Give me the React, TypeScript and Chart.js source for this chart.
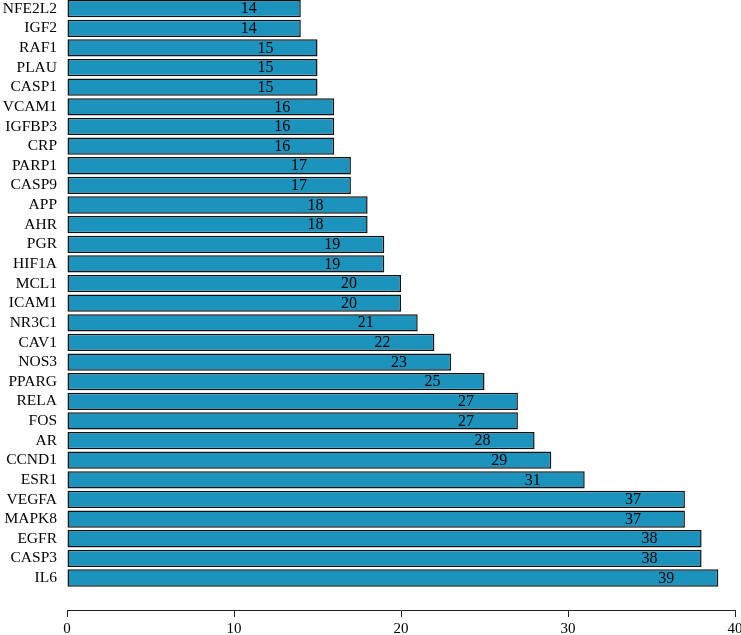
import React, { useEffect, useRef } from "react";
import { Chart, registerables } from "chart.js";

Chart.register(...registerables);

const genes = [
  "NFE2L2", "IGF2", "RAF1", "PLAU", "CASP1", "VCAM1", "IGFBP3", "CRP", "PARP1", "CASP9",
  "APP", "AHR", "PGR", "HIF1A", "MCL1", "ICAM1", "NR3C1", "CAV1", "NOS3", "PPARG",
  "RELA", "FOS", "AR", "CCND1", "ESR1", "VEGFA", "MAPK8", "EGFR", "CASP3", "IL6",
];
const counts = [
  14, 14, 15, 15, 15, 16, 16, 16, 17, 17,
  18, 18, 19, 19, 20, 20, 21, 22, 23, 25,
  27, 27, 28, 29, 31, 37, 37, 38, 38, 39,
];
const xTicks = [0, 10, 20, 30, 40];

const SERIF = "'Liberation Serif', 'Times New Roman', serif";

const valueLabels = {
  id: "valueLabels",
  afterDatasetsDraw(chart: any) {
    const ctx = chart.ctx;
    const meta = chart.getDatasetMeta(0);
    ctx.save();
    ctx.fillStyle = "#000";
    ctx.font = `16px ${SERIF}`;
    ctx.textAlign = "center";
    ctx.textBaseline = "middle";
    meta.data.forEach((bar: any, i: number) => {
      ctx.fillText(String(counts[i]), bar.x - 52, bar.y + 0.5);
    });
    ctx.restore();
  },
};

export default function App() {
  const ref = useRef<HTMLCanvasElement | null>(null);
  useEffect(() => {
    if (!ref.current) return;
    const chart = new Chart(ref.current, {
      type: "bar",
      data: {
        datasets: [
          {
            data: counts.map((v, i) => ({ x: v, y: i })),
            backgroundColor: "#1b93bd",
            borderColor: "#111",
            borderWidth: 1.5,
            borderSkipped: false,
            barPercentage: 0.88,
            categoryPercentage: 1,
          },
        ],
      },
      options: {
        indexAxis: "y",
        animation: false,
        responsive: true,
        maintainAspectRatio: false,
        layout: { padding: { top: 0, right: 6, bottom: 0, left: 0 } },
        plugins: { legend: { display: false }, tooltip: { enabled: false } },
        scales: {
          y: {
            type: "linear",
            reverse: true,
            offset: false,
            min: -0.443,
            max: 30.63,
            afterBuildTicks: (scale: any) => {
              scale.ticks = genes.map((_, i) => ({ value: i }));
            },
            afterFit: (scale: any) => {
              scale.width = 67;
              scale.paddingTop = 0;
              scale.paddingBottom = 0;
            },
            grid: { display: false, drawTicks: false },
            border: { display: false },
            ticks: {
              autoSkip: false,
              padding: 10,
              color: "#000",
              font: { family: SERIF, size: 15.5 },
              callback: (v: any) => genes[v as number] ?? "",
            },
          },
          x: {
            type: "linear",
            min: 0,
            max: 40,
            offset: false,
            afterBuildTicks: (scale: any) => {
              scale.ticks = xTicks.map((v) => ({ value: v }));
            },
            afterFit: (scale: any) => {
              scale.height = 25;
              scale.paddingLeft = 0;
              scale.paddingRight = 0;
            },
            grid: {
              drawOnChartArea: false,
              drawTicks: true,
              tickLength: 7,
              color: "#222",
              lineWidth: 1,
            },
            border: { display: true, color: "#222", width: 1 },
            ticks: {
              padding: 3,
              color: "#000",
              maxRotation: 0,
              font: { family: SERIF, size: 15 },
            },
          },
        },
      },
      plugins: [valueLabels],
    });
    return () => chart.destroy();
  }, []);
  return (
    <div style={{ position: "fixed", left: 0, top: 0, width: 741, height: 635, background: "#fff" }}>
      <canvas ref={ref} />
    </div>
  );
}
